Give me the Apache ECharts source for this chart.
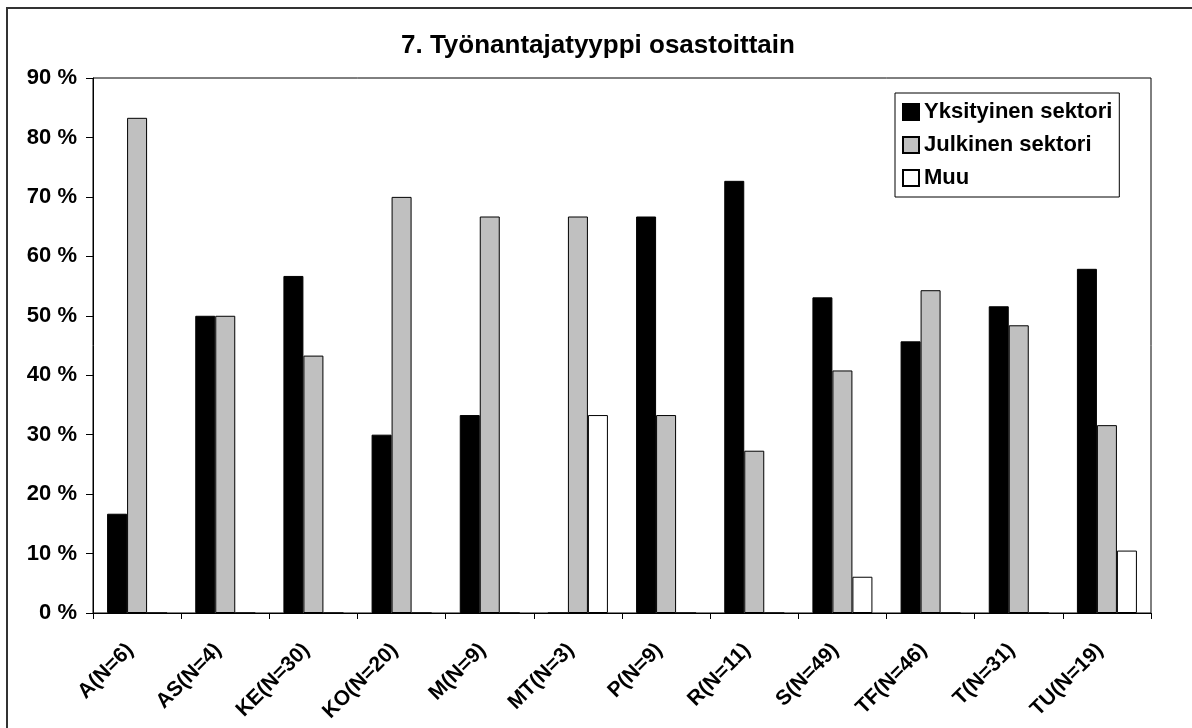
<!DOCTYPE html>
<html>
<head>
<meta charset="utf-8">
<script src="https://cdn.jsdelivr.net/npm/echarts@6/dist/echarts.min.js"></script>
<style>
html, body { margin: 0; padding: 0; background: #fff; }
#chart { width: 1192px; height: 728px; }
</style>
</head>
<body>
<div id="chart"></div>
<script>
var categories = ['A(N=6)', 'AS(N=4)', 'KE(N=30)', 'KO(N=20)', 'M(N=9)', 'MT(N=3)',
    'P(N=9)', 'R(N=11)', 'S(N=49)', 'TF(N=46)', 'T(N=31)', 'TU(N=19)'];
var yksityinen = [16.7, 50, 56.7, 30, 33.3, 0, 66.7, 72.7, 53.1, 45.7, 51.6, 57.9];
var julkinen = [83.3, 50, 43.3, 70, 66.7, 66.7, 33.3, 27.3, 40.8, 54.3, 48.4, 31.6];
var muu = [0, 0, 0, 0, 0, 33.3, 0, 0, 6.1, 0, 0, 10.5];

var font = 'Arial, "Liberation Sans", sans-serif';
var myChart = echarts.init(document.getElementById('chart'));

function barSeries(name, data, color) {
    return {
        name: name,
        type: 'bar',
        data: data,
        barWidth: 20,
        barGap: '0%',
        itemStyle: { color: color, borderColor: '#000', borderWidth: 1 },
        emphasis: { disabled: true }
    };
}

var option = {
    animation: false,
    backgroundColor: '#fff',
    graphic: [{
        // outer chart frame (only top and left edges visible)
        type: 'rect',
        shape: { x: 7, y: 8, width: 1220, height: 760 },
        style: { fill: 'none', stroke: '#333', lineWidth: 2 },
        silent: true
    }],
    title: {
        text: '7. Työnantajatyyppi osastoittain',
        left: 401,
        top: 33,
        padding: 0,
        textStyle: { fontFamily: font, fontWeight: 'bold', fontSize: 26, color: '#000' }
    },
    legend: {
        orient: 'vertical',
        left: 895,
        top: 93,
        padding: [8, 7, 8, 7],
        borderColor: '#000',
        borderWidth: 1,
        backgroundColor: '#fff',
        itemWidth: 16,
        itemHeight: 16,
        itemGap: 11,
        icon: 'rect',
        selectedMode: false,
        textStyle: { fontFamily: font, fontWeight: 'bold', fontSize: 22, color: '#000' },
        data: ['Yksityinen sektori', 'Julkinen sektori', 'Muu']
    },
    grid: {
        left: 93,
        top: 78,
        right: 41,
        bottom: 115,
        show: true,
        borderColor: '#000',
        borderWidth: 1
    },
    xAxis: {
        type: 'category',
        data: categories,
        axisLine: { lineStyle: { color: '#000', width: 1 } },
        axisTick: { show: true, length: 6, lineStyle: { color: '#000' } },
        axisLabel: {
            rotate: 45,
            margin: 27,
            padding: [0, 10, 0, 0],
            interval: 0,
            fontFamily: font,
            fontWeight: 'bold',
            fontSize: 21,
            color: '#000'
        }
    },
    yAxis: {
        type: 'value',
        min: 0,
        max: 90,
        interval: 10,
        splitLine: { show: false },
        axisLine: { show: true, lineStyle: { color: '#000', width: 1 } },
        axisTick: { show: true, length: 7, lineStyle: { color: '#000' } },
        axisLabel: {
            formatter: '{value} %',
            margin: 16,
            fontFamily: font,
            fontWeight: 'bold',
            fontSize: 22,
            color: '#000'
        }
    },
    series: [
        barSeries('Yksityinen sektori', yksityinen, '#000000'),
        barSeries('Julkinen sektori', julkinen, '#c0c0c0'),
        barSeries('Muu', muu, '#ffffff')
    ]
};

myChart.setOption(option);
</script>
</body>
</html>
